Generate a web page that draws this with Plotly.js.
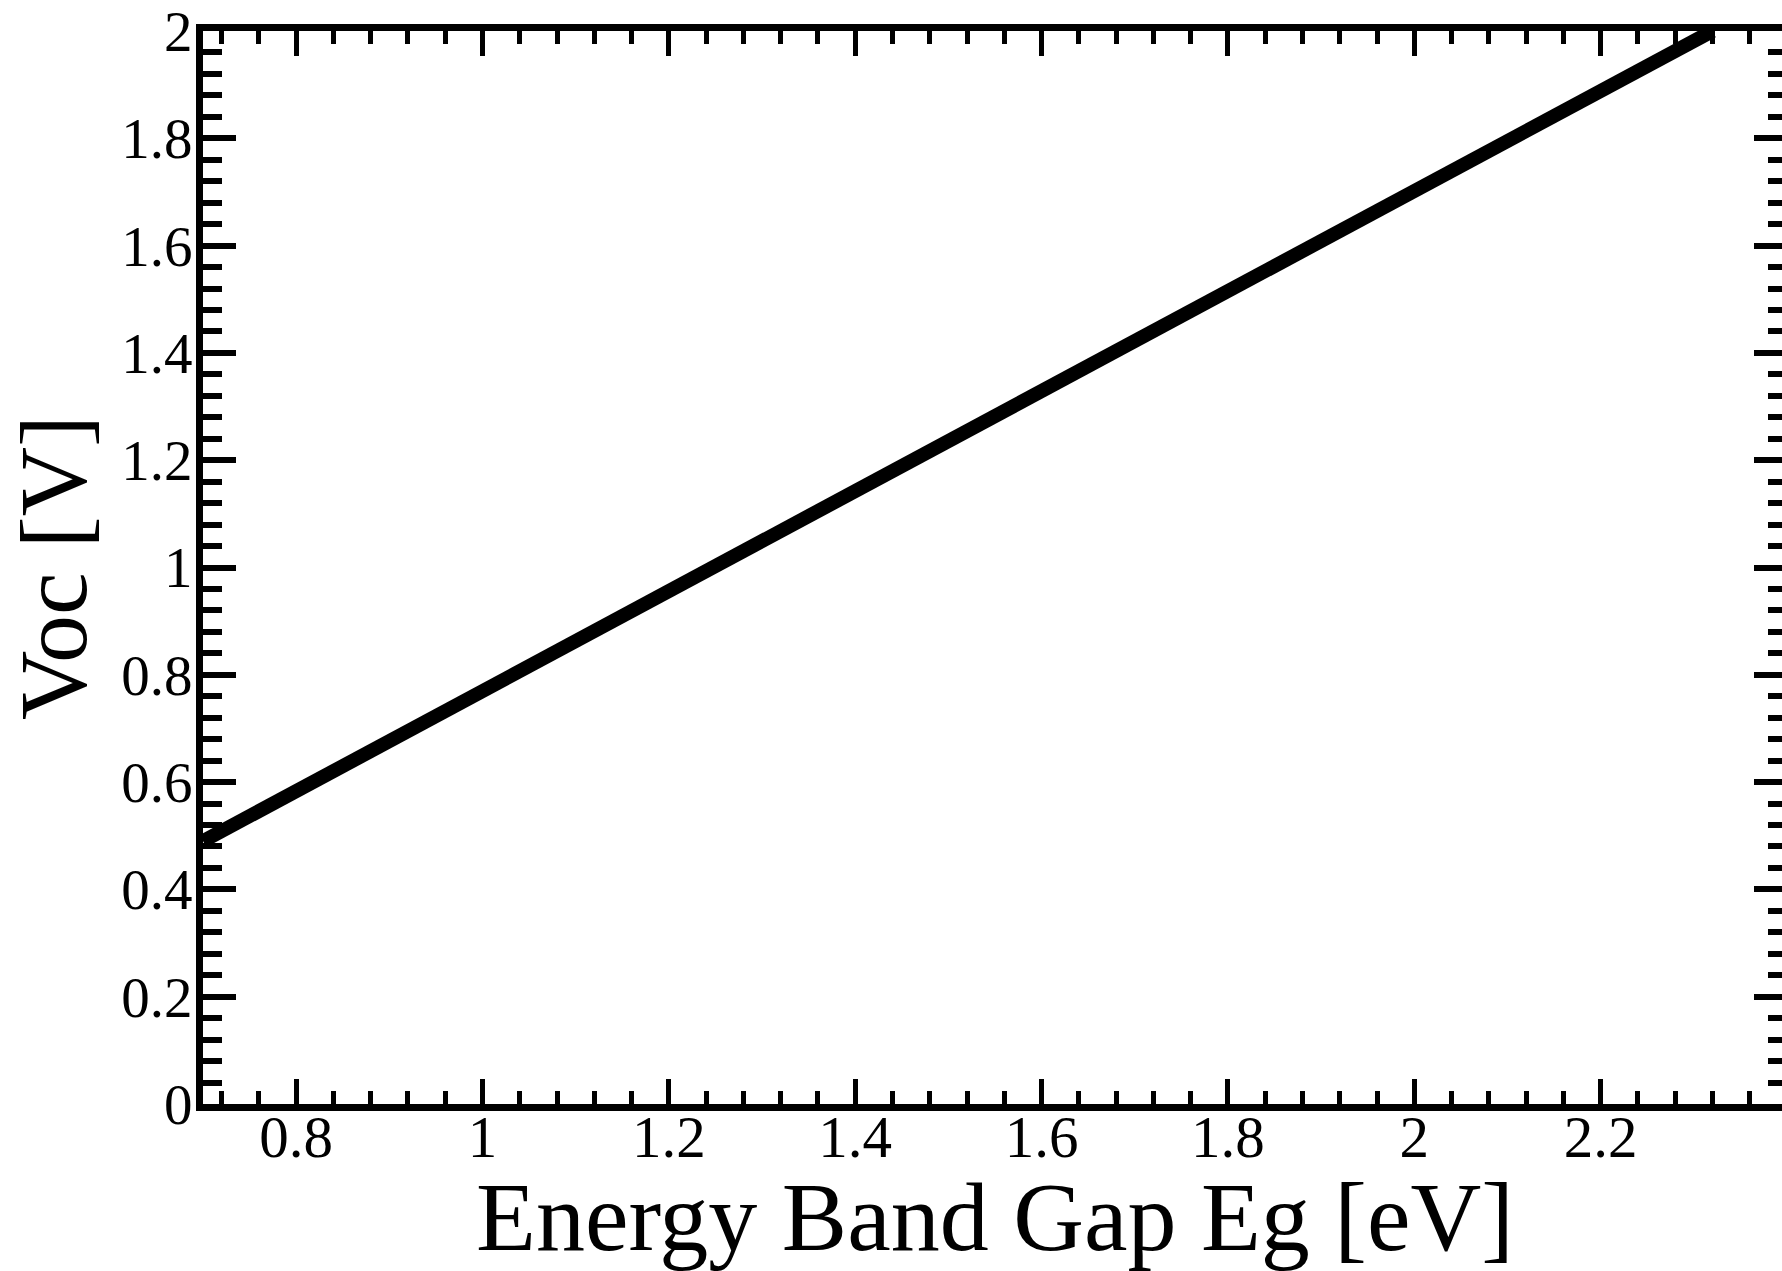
<!DOCTYPE html>
<html>
<head>
<meta charset="utf-8">
<script src="https://cdn.plot.ly/plotly-3.0.1.min.js"></script>
<style>
html, body { margin: 0; padding: 0; background: #ffffff; overflow: hidden; }
#chart { width: 1787px; height: 1271px; }
</style>
</head>
<body>
<div id="chart"></div>
<script>
// Data
const bandGap = [0.70, 1.00, 1.20, 1.40, 1.60, 1.80, 2.00, 2.20, 2.32];
const voc     = [0.49, 0.77, 0.955, 1.14, 1.33, 1.515, 1.70, 1.885, 2.00];

const xTickVals = [0.8, 1.0, 1.2, 1.4, 1.6, 1.8, 2.0, 2.2];
const xTickText = ['0.8', '1', '1.2', '1.4', '1.6', '1.8', '2', '2.2'];
const yTickVals = [0, 0.2, 0.4, 0.6, 0.8, 1.0, 1.2, 1.4, 1.6, 1.8, 2.0];
const yTickText = ['0', '0.2', '0.4', '0.6', '0.8', '1', '1.2', '1.4', '1.6', '1.8', '2'];

const serif = 'Liberation Serif, Times New Roman, serif';

const trace = {
  x: bandGap,
  y: voc,
  type: 'scatter',
  mode: 'lines',
  line: { color: '#000000', width: 14 },
  hoverinfo: 'skip',
  cliponaxis: false
};

const layout = {
  width: 1787,
  height: 1271,
  margin: { l: 203, r: 0, t: 31, b: 167 },
  paper_bgcolor: '#ffffff',
  plot_bgcolor: '#ffffff',
  showlegend: false,
  font: { family: serif, color: '#000000' },
  xaxis: {
    range: [0.7, 2.4],
    tickmode: 'array',
    tickvals: xTickVals,
    ticktext: xTickText,
    ticks: 'inside',
    ticklen: 25,
    tickwidth: 5,
    tickcolor: '#000000',
    minor: { dtick: 0.04, tick0: 0.8, ticks: 'inside', ticklen: 13, tickwidth: 5, tickcolor: '#000000', showgrid: false },
    showline: true,
    linewidth: 7,
    linecolor: '#000000',
    mirror: 'ticks',
    showgrid: false,
    zeroline: false,
    tickfont: { family: serif, size: 59, color: '#000000' },
    ticklabelstandoff: -25,
    ticklabeloverflow: 'allow',
    title: { text: 'Energy Band Gap Eg [eV]', font: { family: serif, size: 98, color: '#000000' }, standoff: 0 },
    automargin: false
  },
  yaxis: {
    range: [0, 2],
    tickmode: 'array',
    tickvals: yTickVals,
    ticktext: yTickText,
    ticks: 'inside',
    ticklen: 33,
    tickwidth: 6,
    tickcolor: '#000000',
    minor: { dtick: 0.04, tick0: 0, ticks: 'inside', ticklen: 19, tickwidth: 6, tickcolor: '#000000', showgrid: false },
    showline: true,
    linewidth: 7,
    linecolor: '#000000',
    mirror: 'ticks',
    showgrid: false,
    zeroline: false,
    tickfont: { family: serif, size: 57, color: '#000000' },
    ticklabelstandoff: -8,
    ticklabeloverflow: 'allow',
    title: { text: 'Voc [V]', font: { family: serif, size: 96, color: '#000000' }, standoff: 35 },
    automargin: false
  }
};

Plotly.newPlot('chart', [trace], layout, { displayModeBar: false, staticPlot: true });
</script>
</body>
</html>
